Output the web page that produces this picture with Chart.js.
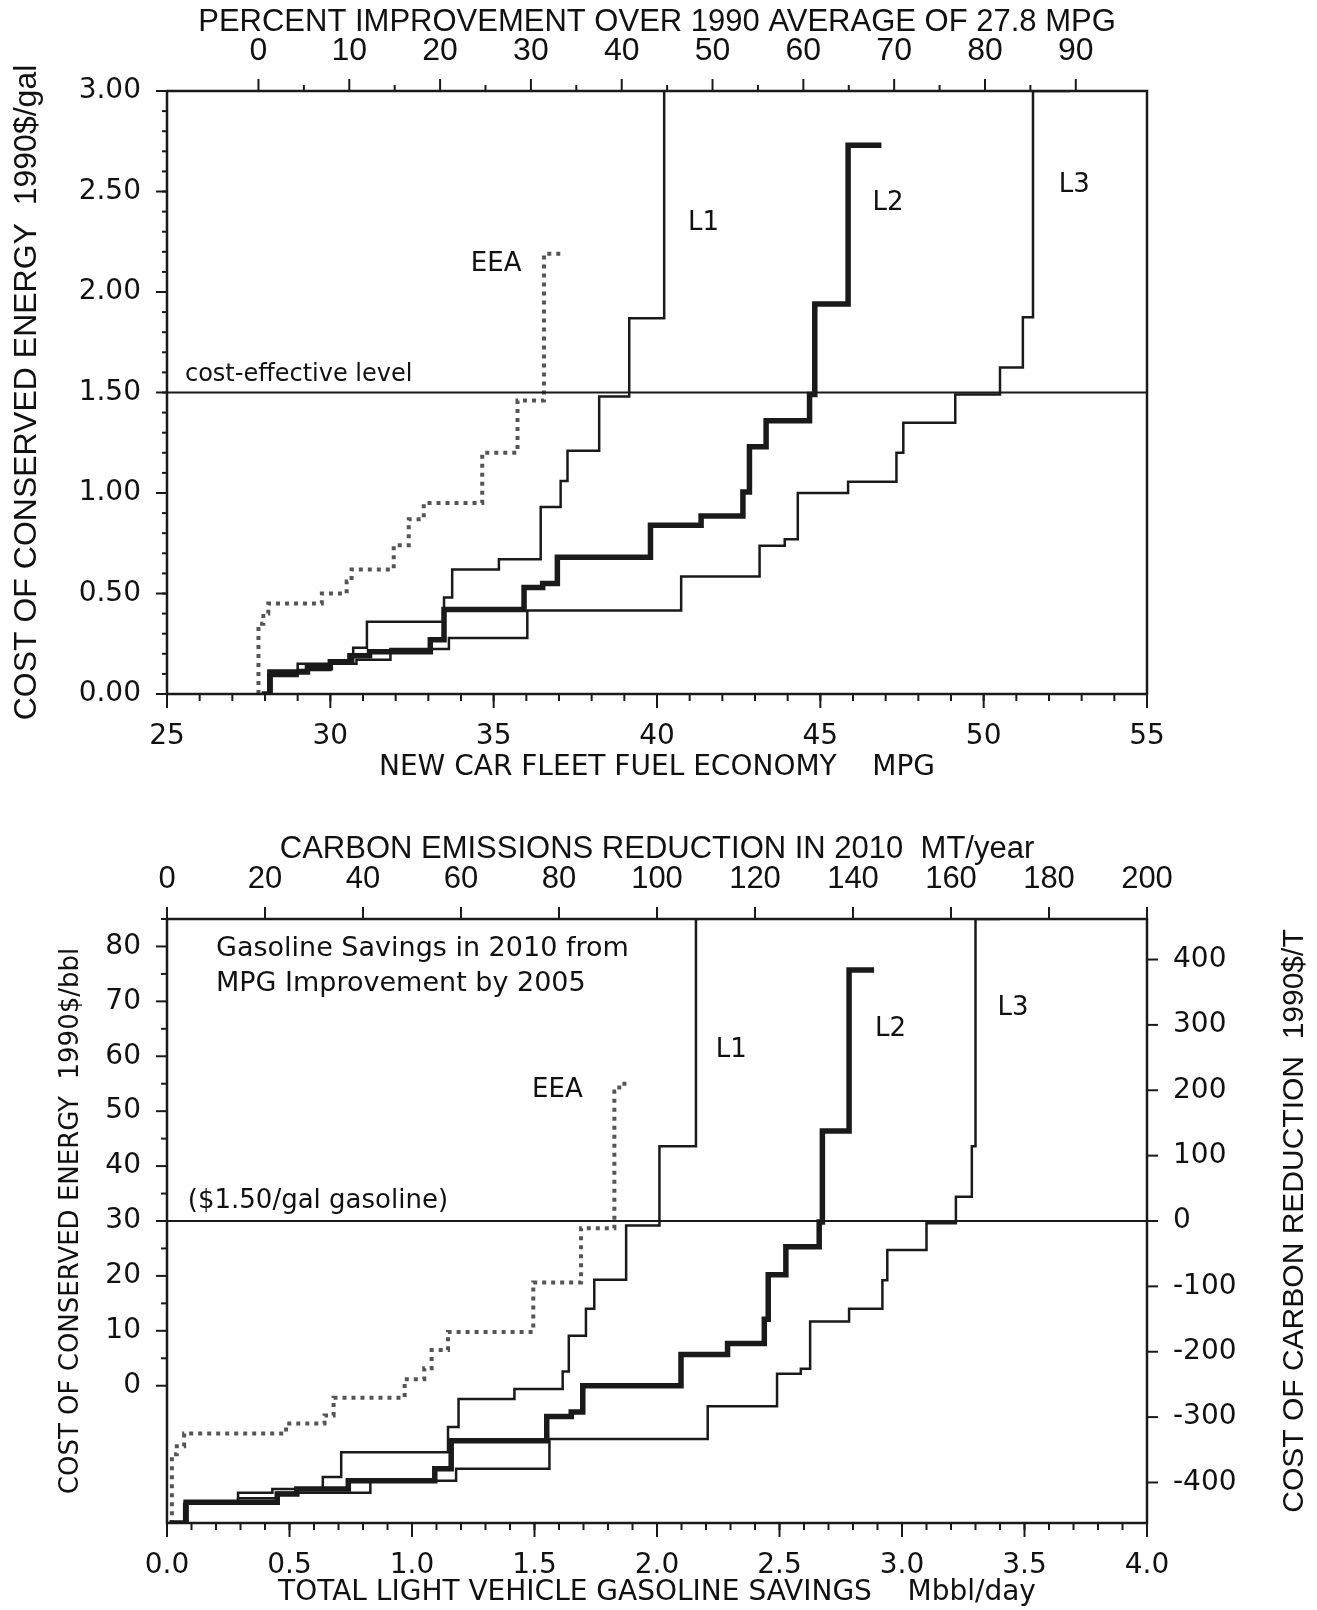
<!DOCTYPE html>
<html lang="en">
<head>
<meta charset="UTF-8">
<title>Cost of conserved energy - supply curves</title>
<script src="https://cdn.jsdelivr.net/npm/chart.js"></script>
<style>
  body { margin: 0; background: #fff; }
  canvas { position: absolute; left: 0; }
  #topChart { top: 0; }
  #bottomChart { top: 800px; }
</style>
</head>
<body>
<canvas id="topChart" width="1317" height="800"></canvas>
<canvas id="bottomChart" width="1317" height="810"></canvas>
<script>
// ---- top panel : cost ($/gal) vs new car fleet MPG ----
// x = MPG where the curve steps up, y = level after the step
const topL1X = [27.9, 28.1, 29.0, 30.7, 31.12, 33.48, 33.73, 35.16, 36.44, 37.05, 37.26, 38.23, 39.15, 40.22, 40.24];
const topL1Y = [0, 0.10, 0.15, 0.23, 0.36, 0.48, 0.62, 0.67, 0.93, 1.06, 1.21, 1.48, 1.87, 3.0, 3.0];
const topL2X = [27.9, 28.15, 29.3, 30.0, 30.6, 31.2, 33.06, 33.48, 35.93, 36.5, 36.95, 39.8, 41.35, 42.63, 42.83, 43.34, 44.67, 44.83, 45.85, 46.87];
const topL2Y = [0, 0.11, 0.13, 0.16, 0.19, 0.21, 0.27, 0.42, 0.53, 0.55, 0.68, 0.84, 0.885, 1.005, 1.23, 1.36, 1.49, 1.94, 2.73, 2.73];
const topL3X = [27.9, 28.2, 29.0, 30.0, 30.8, 31.84, 33.63, 36.03, 40.74, 43.14, 43.91, 44.31, 45.85, 47.33, 47.54, 49.13, 50.5, 51.2, 51.51, 52.65];
const topL3Y = [0, 0.09, 0.12, 0.15, 0.17, 0.224, 0.278, 0.415, 0.584, 0.737, 0.77, 1.0, 1.056, 1.2, 1.35, 1.49, 1.624, 1.874, 3.0, 3.0];
const topEeaX = [27.8, 27.8, 27.95, 28.1, 29.74, 30.5, 30.65, 31.94, 32.4, 32.86, 34.65, 35.73, 36.54, 37.05];
const topEeaY = [0, 0.35, 0.40, 0.45, 0.50, 0.56, 0.62, 0.74, 0.87, 0.95, 1.20, 1.46, 2.19, 2.19];
const topCostLevel = 1.5;
const baseMpg = 27.8;
const mpgTicks = [25, 30, 35, 40, 45, 50, 55];
const pctTicks = [0, 10, 20, 30, 40, 50, 60, 70, 80, 90];
const galTicks = [0, 0.5, 1.0, 1.5, 2.0, 2.5, 3.0];

// ---- bottom panel : cost ($/bbl) vs gasoline savings (Mbbl/day) ----
const botL1X = [0.07, 0.07, 0.29, 0.43, 0.636, 0.711, 1.147, 1.19, 1.418, 1.615, 1.64, 1.71, 1.744, 1.874, 2.01, 2.159, 2.17];
const botL1Y = [-25, -21.5, -19.5, -18.8, -16.6, -12.1, -7.5, -2.4, -0.6, 2.6, 9.1, 14.0, 19.3, 29.2, 43.6, 85, 85];
const botL2X = [0.01, 0.078, 0.45, 0.53, 0.74, 1.093, 1.16, 1.55, 1.65, 1.697, 2.098, 2.288, 2.438, 2.454, 2.526, 2.662, 2.675, 2.784, 2.886];
const botL2Y = [-25, -21.2, -19.7, -18.8, -17.3, -15.1, -10.0, -5.6, -4.8, 0.0, 5.7, 7.7, 12.1, 20.2, 25.3, 29.8, 46.4, 75.7, 75.7];
const botL3X = [0.08, 0.08, 0.29, 0.45, 0.83, 1.18, 1.561, 2.207, 2.49, 2.587, 2.625, 2.784, 2.92, 2.94, 3.10, 3.22, 3.285, 3.30, 3.40];
const botL3Y = [-25, -21.5, -20.5, -19.5, -17.3, -15.1, -9.7, -3.75, 2.2, 3.1, 11.7, 14.0, 19.2, 24.7, 29.6, 34.4, 43.6, 85, 85];
const botEeaX = [0.015, 0.02, 0.04, 0.07, 0.486, 0.643, 0.68, 0.97, 1.05, 1.08, 1.147, 1.495, 1.69, 1.826, 1.846, 1.88];
const botEeaY = [-25, -12.5, -11, -8.7, -6.9, -5.4, -2.2, 1.2, 3.2, 6.5, 9.8, 18.8, 28.7, 53.6, 55, 55];
const bblLevel = 30;
const carbonPerBbl = 8.4;   // $/T per $/bbl
const savingTicks = [0, 0.5, 1.0, 1.5, 2.0, 2.5, 3.0, 3.5, 4.0];
const carbonMtTicks = [0, 20, 40, 60, 80, 100, 120, 140, 160, 180, 200];
const bblTicks = [0, 10, 20, 30, 40, 50, 60, 70, 80];
const carbonCostTicks = [-400, -300, -200, -100, 0, 100, 200, 300, 400];

const WIDE = "'DejaVu Sans', sans-serif";
const NARROW = "'Liberation Sans Narrow', 'Liberation Sans', sans-serif";
const INK = '#1a1a1a';

function range(a, b, step) {
  const out = [];
  for (let v = a; v <= b + 1e-9; v += step) out.push(Math.round(v * 1000) / 1000);
  return out;
}
function pts(xs, ys) { return xs.map((x, i) => ({ x: x, y: ys[i] })); }
function stepLine(xs, ys, w) {
  return { data: pts(xs, ys), stepped: 'before', borderColor: INK, borderWidth: w, pointRadius: 0, fill: false };
}
function dottedLine(xs, ys) {
  return { data: pts(xs, ys), stepped: 'before', borderColor: '#555', borderWidth: 4, borderDash: [4, 5], pointRadius: 0, fill: false };
}
function levelLine(x0, x1, y) {
  return { data: [{ x: x0, y: y }, { x: x1, y: y }], borderColor: INK, borderWidth: 2, pointRadius: 0, fill: false };
}
function fixTicks(list) { return s => { s.ticks = list.map(v => ({ value: v })); }; }

// ticks, frame and text notes
const framePlugin = {
  id: 'frame',
  afterDatasetsDraw(chart, args, opts) {
    const ctx = chart.ctx, a = chart.chartArea;
    ctx.save();
    ctx.strokeStyle = INK;
    ctx.lineWidth = 2.5;
    ctx.strokeRect(a.left, a.top, a.right - a.left, a.bottom - a.top);
    ctx.lineWidth = 2;
    (opts.marks || []).forEach(m => {
      const s = chart.scales[m.scale];
      m.values.forEach(v => {
        const p = s.getPixelForValue(v);
        ctx.beginPath();
        if (s.isHorizontal()) {
          const y0 = s.position === 'top' ? a.top : a.bottom;
          const dir = s.position === 'top' ? -1 : 1;
          ctx.moveTo(p, y0); ctx.lineTo(p, y0 + dir * m.len);
        } else {
          const x0 = s.position === 'left' ? a.left : a.right;
          const dir = s.position === 'left' ? -1 : 1;
          ctx.moveTo(x0, p); ctx.lineTo(x0 + dir * m.len, p);
        }
        ctx.stroke();
      });
    });
    ctx.fillStyle = '#111';
    ctx.textBaseline = 'middle';
    ctx.textAlign = 'left';
    (opts.notes || []).forEach(n => {
      ctx.font = n.font;
      const x = chart.scales.x.getPixelForValue(n.x);
      const y = chart.scales.y.getPixelForValue(n.y);
      [].concat(n.text).forEach((t, i) => ctx.fillText(t, x, y + i * (n.lh || 0)));
    });
    if (opts.sideTitle) {
      const t = opts.sideTitle;
      ctx.font = t.font;
      ctx.textAlign = 'center';
      ctx.translate(t.x, (a.top + a.bottom) / 2);
      ctx.rotate(-Math.PI / 2);
      ctx.fillText(t.text, 0, 0);
    }
    ctx.restore();
  }
};

const common = {
  responsive: false,
  animation: false,
  events: [],
};

// ---------- top chart ----------
new Chart(document.getElementById('topChart'), {
  type: 'line',
  data: {
    datasets: [
      levelLine(25, 55, topCostLevel),
      stepLine(topL3X, topL3Y, 2.5),
      stepLine(topL1X, topL1Y, 2.5),
      stepLine(topL2X, topL2Y, 5.5),
      dottedLine(topEeaX, topEeaY)
    ]
  },
  options: Object.assign({}, common, {
    layout: { padding: { right: 170 } },
    plugins: {
      legend: { display: false },
      tooltip: { enabled: false },
      frame: {
        marks: [
          { scale: 'y', values: galTicks, len: 11 },
          { scale: 'y', values: range(0, 3, 0.1), len: 5 },
          { scale: 'x', values: mpgTicks, len: 14 },
          { scale: 'x', values: range(25, 55, 1), len: 7 },
          { scale: 'x2', values: pctTicks, len: 12 },
          { scale: 'x2', values: range(5, 85, 10), len: 6 }
        ],
        notes: [
          { text: 'cost-effective level', x: 25.55, y: 1.59, font: '24px ' + WIDE },
          { text: 'EEA', x: 34.3, y: 2.14, font: '26px ' + WIDE },
          { text: 'L1', x: 40.95, y: 2.34, font: '26px ' + WIDE },
          { text: 'L2', x: 46.6, y: 2.44, font: '26px ' + WIDE },
          { text: 'L3', x: 52.3, y: 2.53, font: '26px ' + WIDE }
        ]
      }
    },
    scales: {
      x: {
        type: 'linear', position: 'bottom', min: 25, max: 55,
        grid: { display: false }, border: { display: false },
        afterBuildTicks: fixTicks(mpgTicks),
        afterFit: s => { s.height = 106; },
        ticks: { padding: 18, autoSkip: false, maxRotation: 0, font: { family: WIDE, size: 28 }, color: '#111' },
        title: { display: true, text: 'NEW CAR FLEET FUEL ECONOMY    MPG', font: { family: WIDE, size: 28 }, color: '#111', padding: { bottom: 15 } }
      },
      x2: {
        type: 'linear', position: 'top',
        min: (25 / baseMpg - 1) * 100, max: (55 / baseMpg - 1) * 100,
        grid: { display: false }, border: { display: false },
        afterBuildTicks: fixTicks(pctTicks),
        afterFit: s => { s.height = 91; },
        ticks: { padding: 13, autoSkip: false, maxRotation: 0, font: { family: NARROW, size: 32 }, color: '#111' },
        title: { display: true, text: 'PERCENT IMPROVEMENT OVER 1990 AVERAGE OF 27.8 MPG', font: { family: NARROW, size: 31 }, color: '#111', padding: { top: 4 } }
      },
      y: {
        type: 'linear', position: 'left', min: 0, max: 3,
        grid: { display: false }, border: { display: false },
        afterBuildTicks: fixTicks(galTicks),
        afterFit: s => { s.width = 167; },
        ticks: { padding: 18, font: { family: WIDE, size: 28 }, color: '#111', callback: v => v.toFixed(2) },
        title: { display: true, text: 'COST OF CONSERVED ENERGY  1990$/gal', font: { family: NARROW, size: 32 }, color: '#111', padding: { top: 8 } }
      }
    }
  }),
  plugins: [framePlugin]
});

// ---------- bottom chart ----------
const yMin = -25, yMax = 85;
new Chart(document.getElementById('bottomChart'), {
  type: 'line',
  data: {
    datasets: [
      levelLine(0, 4, bblLevel),
      stepLine(botL3X, botL3Y, 2.5),
      stepLine(botL1X, botL1Y, 2.5),
      stepLine(botL2X, botL2Y, 5.5),
      dottedLine(botEeaX, botEeaY)
    ]
  },
  options: Object.assign({}, common, {
    plugins: {
      legend: { display: false },
      tooltip: { enabled: false },
      frame: {
        marks: [
          { scale: 'y', values: bblTicks, len: 11 },
          { scale: 'y', values: range(5, 85, 10), len: 6 },
          { scale: 'x', values: savingTicks, len: 14 },
          { scale: 'x', values: range(0, 4, 0.1), len: 7 },
          { scale: 'x2', values: carbonMtTicks, len: 12 },
          { scale: 'y2', values: carbonCostTicks, len: 11 }
        ],
        notes: [
          { text: ['Gasoline Savings in 2010 from', 'MPG Improvement by 2005'], x: 0.2, y: 79.6, lh: 35, font: '27px ' + WIDE },
          { text: '($1.50/gal gasoline)', x: 0.085, y: 33.6, font: '26px ' + WIDE },
          { text: 'EEA', x: 1.49, y: 53.8, font: '26px ' + WIDE },
          { text: 'L1', x: 2.24, y: 61.1, font: '26px ' + WIDE },
          { text: 'L2', x: 2.89, y: 64.9, font: '26px ' + WIDE },
          { text: 'L3', x: 3.39, y: 68.7, font: '26px ' + WIDE }
        ],
        sideTitle: { text: 'COST OF CARBON REDUCTION  1990$/T', x: 1295, font: '30px ' + NARROW }
      }
    },
    scales: {
      x: {
        type: 'linear', position: 'bottom', min: 0, max: 4,
        grid: { display: false }, border: { display: false },
        afterBuildTicks: fixTicks(savingTicks),
        afterFit: s => { s.height = 87; },
        ticks: { padding: 18, autoSkip: false, maxRotation: 0, font: { family: WIDE, size: 28 }, color: '#111', callback: v => v.toFixed(1) },
        title: { display: true, text: 'TOTAL LIGHT VEHICLE GASOLINE SAVINGS    Mbbl/day', font: { family: WIDE, size: 28 }, color: '#111', padding: { bottom: 0 } }
      },
      x2: {
        type: 'linear', position: 'top', min: 0, max: 200,
        grid: { display: false }, border: { display: false },
        afterBuildTicks: fixTicks(carbonMtTicks),
        afterFit: s => { s.height = 119; },
        ticks: { padding: 13, autoSkip: false, maxRotation: 0, font: { family: NARROW, size: 31 }, color: '#111' },
        title: { display: true, text: 'CARBON EMISSIONS REDUCTION IN 2010  MT/year', font: { family: NARROW, size: 31 }, color: '#111', padding: { top: 31 } }
      },
      y: {
        type: 'linear', position: 'left', min: yMin, max: yMax,
        grid: { display: false }, border: { display: false },
        afterBuildTicks: fixTicks(bblTicks),
        afterFit: s => { s.width = 167; },
        ticks: { padding: 18, font: { family: WIDE, size: 28 }, color: '#111' },
        title: { display: true, text: 'COST OF CONSERVED ENERGY  1990$/bbl', font: { family: WIDE, size: 26 }, color: '#111', padding: { top: 56 } }
      },
      y2: {
        type: 'linear', position: 'right',
        min: (yMin - bblLevel) * carbonPerBbl, max: (yMax - bblLevel) * carbonPerBbl,
        grid: { display: false }, border: { display: false },
        afterBuildTicks: fixTicks(carbonCostTicks),
        afterFit: s => { s.width = 170; },
        ticks: { padding: 18, font: { family: WIDE, size: 28 }, color: '#111' },
        title: { display: false }
      }
    }
  }),
  plugins: [framePlugin]
});
</script>
</body>
</html>
